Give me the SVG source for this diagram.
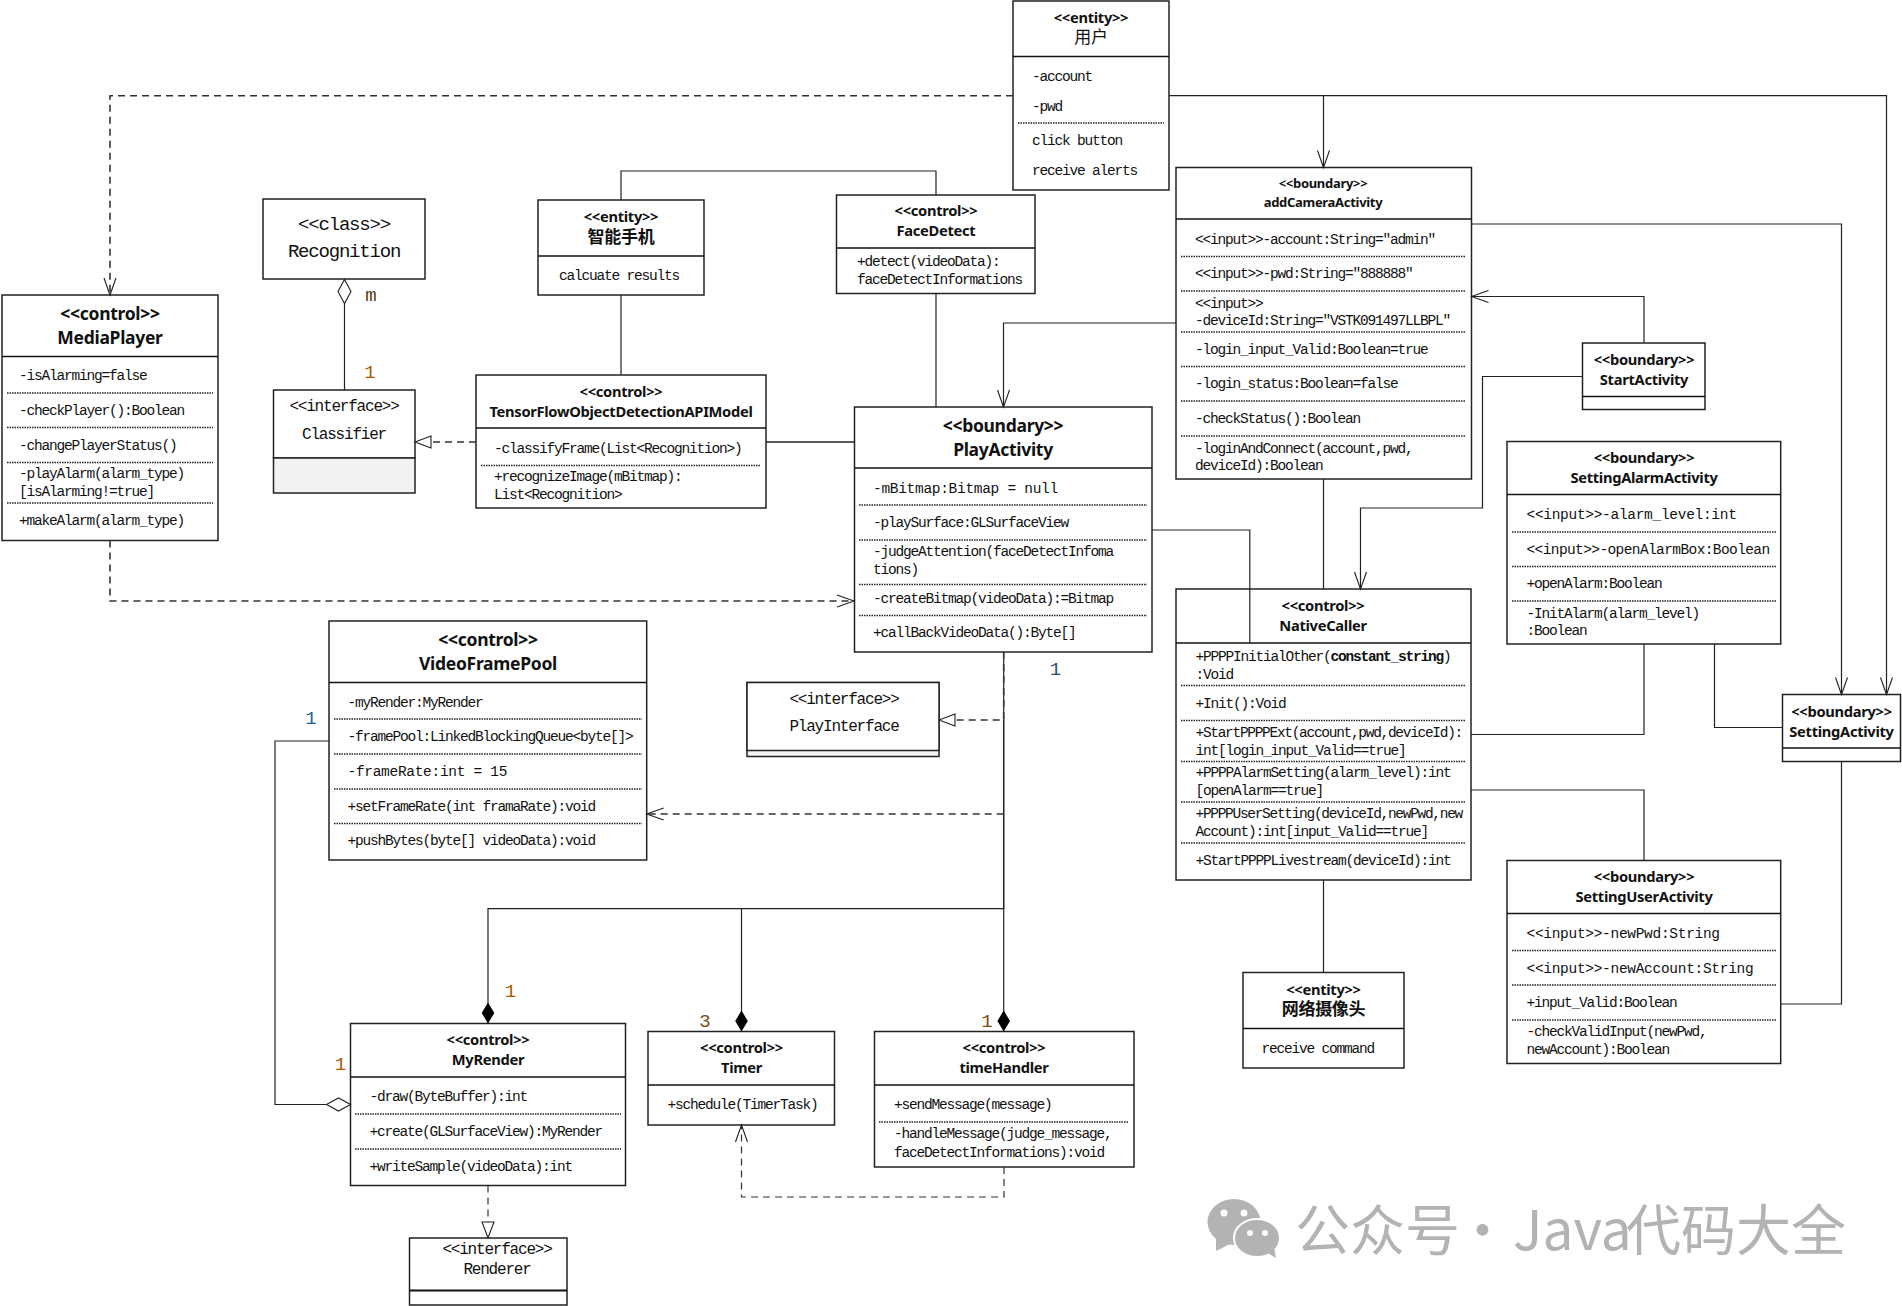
<svg xmlns="http://www.w3.org/2000/svg" width="1902" height="1306" viewBox="0 0 1902 1306">
<style>
text{dominant-baseline:central;fill:#111}
.b{fill:#fff;stroke:#222;stroke-width:1.5}
.g{fill:#f2f2f2;stroke:#222;stroke-width:1.5}
.s{stroke:#111;stroke-width:1.5;fill:none}
.d{stroke:#222;stroke-width:1.3;stroke-dasharray:1.5 1;fill:none}
.m{font-family:"Liberation Mono",monospace;font-size:14.5px;letter-spacing:-1.2px;transform:translateY(1px)}
.w{letter-spacing:-.3px}
.x{letter-spacing:-1.3px}
.i{font-family:"Liberation Mono",monospace;font-size:16px;letter-spacing:-1.2px;text-anchor:middle;transform:translateY(1px)}
.l{font-family:"Liberation Mono",monospace;font-size:19px;letter-spacing:-1.2px;text-anchor:middle}
.t{font-family:"Noto Sans","Noto Sans CJK SC",sans-serif;font-weight:700;font-size:14.700px;text-anchor:middle;letter-spacing:-.3px;transform:translateY(-.7px)}
.t2{font-size:17.500px}.t3{font-size:13px}.t4{font-size:17.500px}.z{font-size:17px}
.n{font-family:"Liberation Mono",monospace;font-size:19px;text-anchor:middle}
.c{fill:none;stroke:#222;stroke-width:1.2}
.ds{stroke-dasharray:7 5;stroke:#333;stroke-width:1.2}
.dh{stroke-width:1.6}
</style>
<defs>
<marker id="open" markerUnits="userSpaceOnUse" markerWidth="20" markerHeight="16" refX="18" refY="8" orient="auto"><path d="M1 2L18 8L1 14" fill="none" stroke="#222" stroke-width="1.1"/></marker>
<marker id="tri" markerUnits="userSpaceOnUse" markerWidth="20" markerHeight="16" refX="18" refY="8" orient="auto"><path d="M2 2L18 8L2 14Z" fill="#fff" stroke="#222" stroke-width="1.1"/></marker>
<marker id="fd" markerUnits="userSpaceOnUse" markerWidth="24" markerHeight="16" refX="22" refY="8" orient="auto"><path d="M1 8L11.500 1.700L22 8L11.500 14.300Z" fill="#000"/></marker>
<marker id="hd" markerUnits="userSpaceOnUse" markerWidth="28" markerHeight="16" refX="26" refY="8" orient="auto"><path d="M2 8L14 1.500L26 8L14 14.500Z" fill="#fff" stroke="#222" stroke-width="1.1"/></marker>
</defs>

<g id="user">
<rect class="b" x="1013" y="1" width="156" height="189"/><path class="s" d="M1013 56.500H1169"/><path class="d" d="M1018 123H1164"/>
<text class="t" x="1091" y="18">&lt;&lt;entity&gt;&gt;</text><text class="t z" style="font-weight:400" x="1091" y="37">用户</text>
<text class="m" x="1032" y="76">-account</text><text class="m" x="1032" y="106">-pwd</text><text class="m" x="1032" y="140">click button</text><text class="m" x="1032" y="170">receive alerts</text>
</g>
<g id="recognition">
<rect class="b" x="263" y="199" width="162" height="80"/>
<text class="l" x="344" y="225">&lt;&lt;class&gt;&gt;</text><text class="l" x="344" y="252">Recognition</text>
</g>
<g id="classifier">
<rect class="b" x="273.500" y="390" width="141.500" height="68"/><rect class="g" x="273.500" y="458" width="141.500" height="35"/>
<text class="i" x="344" y="406">&lt;&lt;interface&gt;&gt;</text><text class="i" x="344" y="433.500">Classifier</text>
</g>
<g id="mediaplayer">
<rect class="b" x="2" y="295" width="216" height="245.500"/><path class="s" d="M2 356.500H218"/>
<path class="d" d="M7 393H213M7 427.500H213M7 462.500H213M7 503H213"/>
<text class="t t2" x="110" y="314">&lt;&lt;control&gt;&gt;</text><text class="t t2" x="110" y="338">MediaPlayer</text>
<text class="m" x="19" y="375">-isAlarming=false</text><text class="m" x="19" y="410">-checkPlayer():Boolean</text><text class="m" x="19" y="445">-changePlayerStatus()</text><text class="m" x="19" y="473">-playAlarm(alarm_type)</text><text class="m" x="19" y="491">[isAlarming!=true]</text><text class="m" x="19" y="520">+makeAlarm(alarm_type)</text>
</g>
<g id="smartphone">
<rect class="b" x="538" y="200" width="166" height="95"/><path class="s" d="M538 256H704"/>
<text class="t" x="621" y="217">&lt;&lt;entity&gt;&gt;</text><text class="t z" x="621" y="237">智能手机</text>
<text class="m" x="559" y="275">calcuate results</text>
</g>
<g id="facedetect">
<rect class="b" x="836.500" y="195" width="198.500" height="98.500"/><path class="s" d="M836.500 248H1035"/>
<text class="t" x="936" y="211">&lt;&lt;control&gt;&gt;</text><text class="t" x="936" y="231">FaceDetect</text>
<text class="m" x="857" y="261">+detect(videoData):</text><text class="m" x="857" y="279">faceDetectInformations</text>
</g>
<g id="tensorflow">
<rect class="b" x="476" y="375" width="290" height="133"/><path class="s" d="M476 428H766"/><path class="d" d="M481 465.500H761"/>
<text class="t" x="621" y="392">&lt;&lt;control&gt;&gt;</text><text class="t" x="621" y="412">TensorFlowObjectDetectionAPIModel</text>
<text class="m" x="494" y="448">-classifyFrame(List&lt;Recognition&gt;)</text><text class="m" x="494" y="476">+recognizeImage(mBitmap):</text><text class="m" x="494" y="494">List&lt;Recognition&gt;</text>
</g>
<g id="playactivity">
<rect class="b" x="854.500" y="407" width="297.500" height="245"/><path class="s" d="M854.500 468H1152"/>
<path class="d" d="M859 505H1147M859 540H1147M859 584.500H1147M859 615.500H1147"/>
<text class="t t2" x="1003" y="426">&lt;&lt;boundary&gt;&gt;</text><text class="t t2" x="1003" y="450">PlayActivity</text>
<text class="m w" x="873" y="487.500">-mBitmap:Bitmap = null</text><text class="m" x="873" y="522">-playSurface:GLSurfaceView</text><text class="m" x="873" y="551">-judgeAttention(faceDetectInfoma</text><text class="m" x="873" y="569">tions)</text><text class="m" x="873" y="598">-createBitmap(videoData):=Bitmap</text><text class="m" x="873" y="632">+callBackVideoData():Byte[]</text>
</g>
<g id="addcamera">
<rect class="b" x="1176" y="167.500" width="295.500" height="311.500"/><path class="s" d="M1176 219H1471.500"/>
<path class="d" d="M1181 256.500H1466M1181 291H1466M1181 332H1466M1181 366.500H1466M1181 401H1466M1181 436H1466"/>
<text class="t t3" x="1323" y="184">&lt;&lt;boundary&gt;&gt;</text><text class="t t3" x="1323" y="203">addCameraActivity</text>
<text class="m" x="1195" y="239">&lt;&lt;input&gt;&gt;-account:String="admin"</text><text class="m" x="1195" y="273">&lt;&lt;input&gt;&gt;-pwd:String="888888"</text><text class="m" x="1195" y="302.500">&lt;&lt;input&gt;&gt;</text><text class="m" x="1195" y="320">-deviceId:String="VSTK091497LLBPL"</text><text class="m" x="1195" y="349">-login_input_Valid:Boolean=true</text><text class="m" x="1195" y="383">-login_status:Boolean=false</text><text class="m" x="1195" y="418">-checkStatus():Boolean</text><text class="m" x="1195" y="447.500">-loginAndConnect(account,pwd,</text><text class="m" x="1195" y="465">deviceId):Boolean</text>
</g>
<g id="startactivity">
<rect class="b" x="1582.500" y="343" width="122.500" height="66.500"/><path class="s" d="M1582.500 396.500H1705"/>
<text class="t" x="1644" y="360">&lt;&lt;boundary&gt;&gt;</text><text class="t" x="1644" y="380">StartActivity</text>
</g>
<g id="settingalarm">
<rect class="b" x="1507" y="441.500" width="273.700" height="202.500"/><path class="s" d="M1507 494.500H1780.700"/>
<path class="d" d="M1512 532H1776M1512 566.500H1776M1512 601H1776"/>
<text class="t" x="1644" y="458">&lt;&lt;boundary&gt;&gt;</text><text class="t" x="1644" y="478">SettingAlarmActivity</text>
<text class="m w" x="1526.500" y="513.500">&lt;&lt;input&gt;&gt;-alarm_level:int</text><text class="m" style="letter-spacing:-.6px" x="1526.500" y="548.500">&lt;&lt;input&gt;&gt;-openAlarmBox:Boolean</text><text class="m" x="1526.500" y="583">+openAlarm:Boolean</text><text class="m" x="1526.500" y="612.500">-InitAlarm(alarm_level)</text><text class="m" x="1526.500" y="630">:Boolean</text>
</g>
<g id="nativecaller">
<rect class="b" x="1176" y="589" width="295" height="291"/><path class="s" d="M1176 643H1471"/>
<path class="d" d="M1181 685.500H1466M1181 720.500H1466M1181 761.500H1466M1181 802H1466M1181 843H1466"/>
<text class="t" x="1323" y="606">&lt;&lt;control&gt;&gt;</text><text class="t" x="1323" y="625.500">NativeCaller</text>
<text class="m" x="1195.500" y="656">+PPPPInitialOther(<tspan font-weight="700">constant_string</tspan>)</text><text class="m" x="1195.500" y="674">:Void</text><text class="m" x="1195.500" y="703">+Init():Void</text><text class="m x" x="1195.500" y="732">+StartPPPPExt(account,pwd,deviceId):</text><text class="m" x="1195.500" y="750">int[login_input_Valid==true]</text><text class="m" x="1195.500" y="772">+PPPPAlarmSetting(alarm_level):int</text><text class="m" x="1195.500" y="790">[openAlarm==true]</text><text class="m x" x="1195.500" y="813">+PPPPUserSetting(deviceId,newPwd,new</text><text class="m" x="1195.500" y="831">Account):int[input_Valid==true]</text><text class="m" x="1195.500" y="860">+StartPPPPLivestream(deviceId):int</text>
</g>
<g id="settingactivity">
<rect class="b" x="1782.500" y="694.500" width="118" height="67"/><path class="s" d="M1782.500 748H1900.500"/>
<text class="t" x="1841.500" y="712">&lt;&lt;boundary&gt;&gt;</text><text class="t" x="1841.500" y="732">SettingActivity</text>
</g>
<g id="settinguser">
<rect class="b" x="1507" y="860.500" width="273.700" height="203"/><path class="s" d="M1507 913.500H1780.700"/>
<path class="d" d="M1512 950.500H1776M1512 985H1776M1512 1020H1776"/>
<text class="t" x="1644" y="877">&lt;&lt;boundary&gt;&gt;</text><text class="t" x="1644" y="897">SettingUserActivity</text>
<text class="m w" x="1526.500" y="932.500">&lt;&lt;input&gt;&gt;-newPwd:String</text><text class="m w" x="1526.500" y="967.500">&lt;&lt;input&gt;&gt;-newAccount:String</text><text class="m" x="1526.500" y="1002">+input_Valid:Boolean</text><text class="m" x="1526.500" y="1031">-checkValidInput(newPwd,</text><text class="m" x="1526.500" y="1049">newAccount):Boolean</text>
</g>
<g id="camera">
<rect class="b" x="1243" y="972.500" width="161" height="95.500"/><path class="s" d="M1243 1028.500H1404"/>
<text class="t" x="1323.500" y="990">&lt;&lt;entity&gt;&gt;</text><text class="t z" x="1323.500" y="1009.500">网络摄像头</text>
<text class="m" x="1261.500" y="1048">receive command</text>
</g>
<g id="videoframepool">
<rect class="b" x="329" y="621" width="317.700" height="239"/><path class="s" d="M329 682.500H646.700"/>
<path class="d" d="M334 719H642M334 754H642M334 789H642M334 823.500H642"/>
<text class="t t4" x="488" y="639.500">&lt;&lt;control&gt;&gt;</text><text class="t t4" x="488" y="663.500">VideoFramePool</text>
<text class="m" x="347.500" y="702">-myRender:MyRender</text><text class="m" x="347.500" y="736">-framePool:LinkedBlockingQueue&lt;byte[]&gt;</text><text class="m w" x="347.500" y="771">-frameRate:int = 15</text><text class="m" x="347.500" y="806">+setFrameRate(int framaRate):void</text><text class="m" x="347.500" y="840">+pushBytes(byte[] videoData):void</text>
</g>
<g id="playinterface">
<rect class="g" x="747" y="682.500" width="192" height="74"/><rect class="b" x="747" y="682.500" width="192" height="68"/>
<text class="i" x="844" y="699">&lt;&lt;interface&gt;&gt;</text><text class="i" x="844" y="725.500">PlayInterface</text>
</g>
<g id="myrender">
<rect class="b" x="350.500" y="1023.500" width="275" height="162"/><path class="s" d="M350.500 1077H625.500"/>
<path class="d" d="M355 1114H621M355 1149H621"/>
<text class="t" x="488" y="1039.500">&lt;&lt;control&gt;&gt;</text><text class="t" x="488" y="1060">MyRender</text>
<text class="m" x="369.500" y="1096">-draw(ByteBuffer):int</text><text class="m" x="369.500" y="1131">+create(GLSurfaceView):MyRender</text><text class="m" x="369.500" y="1166">+writeSample(videoData):int</text>
</g>
<g id="timer">
<rect class="b" x="648" y="1031.500" width="186.500" height="93.500"/><path class="s" d="M648 1085H834.500"/>
<text class="t" x="741.500" y="1047.500">&lt;&lt;control&gt;&gt;</text><text class="t" x="741.500" y="1068">Timer</text>
<text class="m" x="667.500" y="1104">+schedule(TimerTask)</text>
</g>
<g id="timehandler">
<rect class="b" x="874.500" y="1031.500" width="259.500" height="135.500"/><path class="s" d="M874.500 1085H1134"/><path class="d" d="M879 1122H1129"/>
<text class="t" x="1004" y="1047.500">&lt;&lt;control&gt;&gt;</text><text class="t" x="1004" y="1068">timeHandler</text>
<text class="m" x="894" y="1104">+sendMessage(message)</text><text class="m" x="894" y="1133">-handleMessage(judge_message,</text><text class="m" x="894" y="1152">faceDetectInformations):void</text>
</g>
<g id="renderer">
<rect class="b" x="409.500" y="1238" width="157.500" height="67"/><path class="s" style="stroke-width:2.2" d="M409.500 1290.500H567"/>
<text class="i" x="497" y="1248.500">&lt;&lt;interface&gt;&gt;</text><text class="i" x="497" y="1269">Renderer</text>
</g>

<g id="connectors">
<path class="c ds dh" d="M1013 95.700H110V295" marker-end="url(#open)"/>
<path class="c ds dh" d="M110 540.500V601H854" marker-end="url(#open)"/>
<path class="c ds dh" d="M476 442H415" marker-end="url(#tri)"/>
<path class="c dh" d="M766 442H854.500"/>
<path class="c" d="M344.500 390V279.500" marker-end="url(#hd)"/>
<path class="c" d="M621 200V171H936V195M621 295V375M936 293.500V407"/>
<path class="c" d="M1169 95.700H1323.500V167.500" marker-end="url(#open)"/>
<path class="c" d="M1323.500 95.700H1886.500V694.500" marker-end="url(#open)"/>
<path class="c" d="M1471.500 224H1841.500V694.500" marker-end="url(#open)"/>
<path class="c" d="M1644 343V296.500H1471.500" marker-end="url(#open)"/>
<path class="c" d="M1582.500 376.500H1482.500V508H1360.500V589" marker-end="url(#open)"/>
<path class="c" d="M1176 323H1003.500V407" marker-end="url(#open)"/>
<path class="c" d="M1152 530H1249.800V643M1323.500 479V589M1323.500 880V972.500"/>
<path class="c" d="M1644 644V734.500H1471M1714.500 644V727.500H1782.500"/>
<path class="c" d="M1841.500 761.500V1004H1780.700M1471 790H1644V860.500"/>
<path class="c" d="M1003.700 720V908.600H488V1023.500" marker-end="url(#fd)"/>
<path class="c" d="M741.500 908.600V1031.500" marker-end="url(#fd)"/>
<path class="c" d="M1003.700 652V1031.500" marker-end="url(#fd)"/>
<path class="c ds dh" d="M1003.700 652V720H939" marker-end="url(#tri)"/>
<path class="c ds dh" d="M1003.700 814H646.700" marker-end="url(#open)"/>
<path class="c ds" d="M1004 1167V1197H741.500V1125" marker-end="url(#open)"/>
<path class="c ds" d="M488 1185.500V1238" marker-end="url(#tri)"/>
<path class="c" d="M329 741H275V1104.500H350.500" marker-end="url(#hd)"/>
</g>

<g id="labels">
<text class="n" x="371" y="296" style="fill:#5a3a10">m</text>
<text class="n" x="370" y="373" style="fill:#a85a00">1</text>
<text class="n" x="311" y="719" style="fill:#1f5fa0">1</text>
<text class="n" x="1055.500" y="670" style="fill:#2a4a70">1</text>
<text class="n" x="340.500" y="1065" style="fill:#a85a00">1</text>
<text class="n" x="510.500" y="991.500" style="fill:#a85a00">1</text>
<text class="n" x="705" y="1022" style="fill:#7a4a10">3</text>
<text class="n" x="987" y="1022" style="fill:#7a4a10">1</text>
</g>

<g id="watermark">
<ellipse cx="1234" cy="1222" rx="26.500" ry="23" fill="#b3b3b3"/>
<path d="M1216 1238L1216 1251L1232 1243Z" fill="#b3b3b3"/>
<circle cx="1224" cy="1213" r="3.500" fill="#fff"/><circle cx="1244" cy="1213" r="3.500" fill="#fff"/>
<ellipse cx="1257" cy="1238" rx="23" ry="19" fill="#b3b3b3" stroke="#fff" stroke-width="2"/>
<path d="M1266 1252L1276 1258L1274 1247Z" fill="#b3b3b3"/>
<circle cx="1250" cy="1233" r="3" fill="#fff"/><circle cx="1265" cy="1233" r="3" fill="#fff"/>
<text y="1226" style="font-family:'Noto Sans CJK SC',sans-serif;font-size:55px;fill:#b3b3b3"><tspan x="1295">公众号</tspan><tspan x="1455">·</tspan><tspan x="1513">Java</tspan><tspan x="1626">代码大全</tspan></text>
</g>
</svg>
